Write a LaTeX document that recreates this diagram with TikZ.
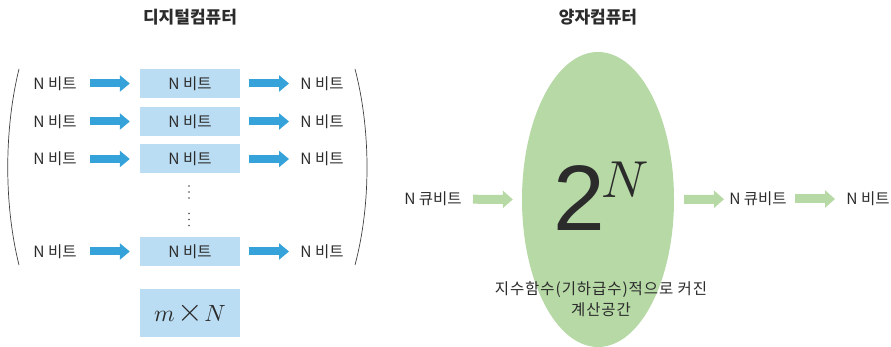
\documentclass[tikz,border=0pt]{standalone}
\usepackage{fontspec}
\usepackage{graphicx}
\setmainfont{Noto Sans CJK KR}
\newfontfamily\digitfont{Liberation Sans}
\usetikzlibrary{arrows.meta,shapes.geometric}
\definecolor{arrowblue}{HTML}{35A2DA}
\definecolor{boxblue}{HTML}{BBDDF3}
\definecolor{qgreen}{HTML}{B6D9A6}
\definecolor{txt}{HTML}{2B2B2B}
\begin{document}
\begin{tikzpicture}[x=1pt,y=-1pt,
  every node/.style={text=txt, inner sep=0pt},
  lbl/.style={font=\fontsize{15.5}{21}\selectfont},
  ttl/.style={font=\fontsize{17}{19}\selectfont\bfseries},
  bitbox/.style={fill=boxblue, minimum width=100pt, minimum height=29pt, font=\fontsize{15.5}{18}\selectfont},
  barrow/.style={draw=arrowblue, line width=8pt, -{Triangle[length=10pt,width=16pt]}},
  garrow/.style={draw=qgreen, line width=9pt, -{Triangle[length=10pt,width=17pt]}},
  paren/.style={draw=black!75, line width=0.7pt},
  vdot/.style={circle, fill=txt!85, minimum size=1.7pt}]
\useasboundingbox (0,0) rectangle (891,347);

% ---------- digital computer ----------
\node[ttl] (dtitle) at (190,17) {디지털컴퓨터};

\foreach \i/\y in {1/83.5,2/121.5,3/159,4/251.5}{
  \node[lbl] (l\i) at (55,\y) {N 비트};
  \node[bitbox] (b\i) at (190,\y) {N 비트};
  \node[lbl] (r\i) at (322,\y) {N 비트};
  \draw[barrow, shorten <=35pt, shorten >=10pt] (l\i.center) -- (b\i.west);
  \draw[barrow, shorten <=9pt, shorten >=33pt] (b\i.east) -- (r\i.center);
}
\foreach \y [count=\k] in {186,192,198,213.5,219.5,225.5}{
  \node[vdot] (vd\k) at (189,\y) {};
}

\node[fill=boxblue, minimum width=100pt, minimum height=48pt] (mn) at (190,313) {\scalebox{2.35}{$m\mkern2mu\scalebox{1.4}{$\times$}\mkern1mu N$}};

\draw[paren] (19,69) .. controls (4,130) and (4,205) .. (19,265);
\draw[paren] (355,69) .. controls (371,130) and (371,205) .. (355,265);

% ---------- quantum computer ----------
\node[ttl] (qtitle) at (598,17) {양자컴퓨터};
\node[ellipse, fill=qgreen, minimum width=152pt, minimum height=295pt] (q) at (598,199.5) {};
\node (two) at (579,198.5) {\fontsize{93}{93}\selectfont\digitfont 2};
\node (expn) at (625,180) {\scalebox{5.2}{$N$}};
\node[lbl, align=center] (qtext) at (601,299.5) {\addfontfeature{LetterSpace=6}지수함수(기하급수)적으로 커진\\\addfontfeature{LetterSpace=6}계산공간};

\node[lbl] (qin) at (433,199) {N 큐비트};
\node[lbl] (qout) at (758,199) {N 큐비트};
\node[lbl] (bout) at (868,199) {N 비트};
\draw[garrow, shorten <=40pt, shorten >=9pt] (qin.center) -- (q.west);
\draw[garrow, shorten <=10pt, shorten >=34pt] (q.east) -- (qout.center);
\draw[garrow, shorten <=37pt, shorten >=33pt] (qout.center) -- (bout.center);
\end{tikzpicture}
\end{document}
